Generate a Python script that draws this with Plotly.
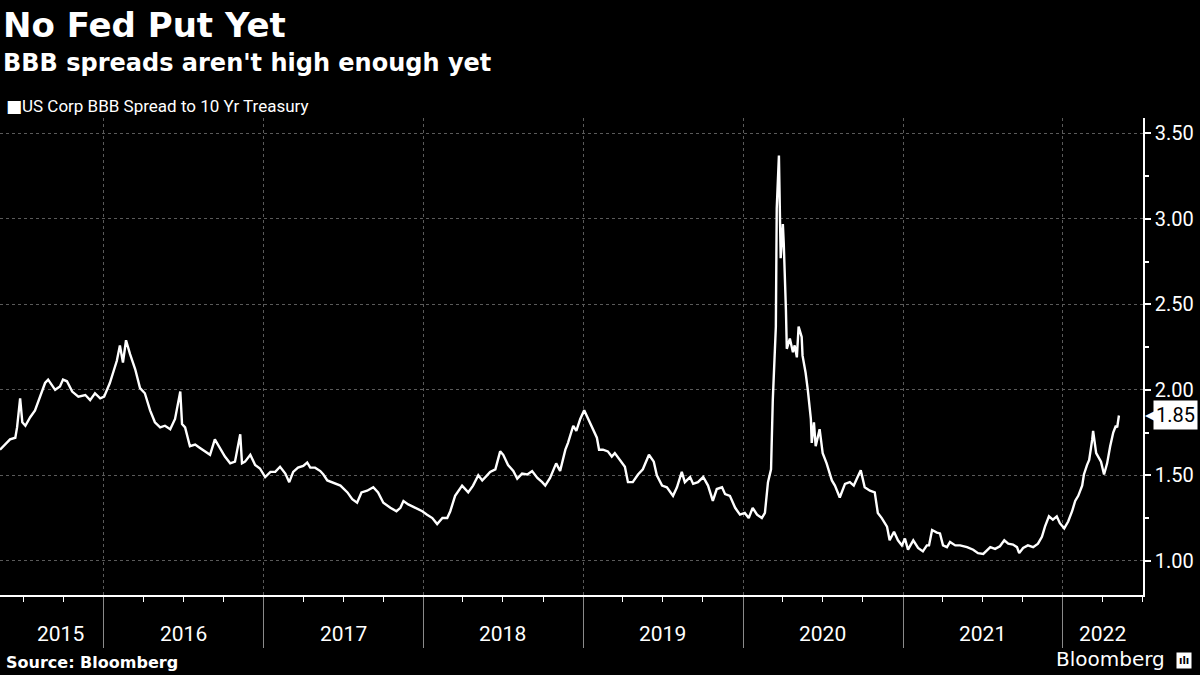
import plotly.graph_objects as go

# BBB spread to 10yr treasury (pct pts)
d2015 = ["2015-05-09", "2015-05-21", "2015-06-01", "2015-06-13", "2015-06-17", "2015-06-24", "2015-06-29",
         "2015-07-06", "2015-07-17", "2015-07-28", "2015-08-09", "2015-08-20", "2015-08-27", "2015-09-12",
         "2015-09-23", "2015-09-30", "2015-10-09", "2015-10-21", "2015-11-04", "2015-11-20", "2015-12-01",
         "2015-12-12", "2015-12-24"]
v2015 = [1.65, 1.68, 1.71, 1.72, 1.78, 1.95, 1.81, 1.79, 1.84, 1.88, 1.96, 2.04, 2.06, 2.00, 2.02, 2.06, 2.05,
         1.99, 1.96, 1.97, 1.94, 1.98, 1.95]

d2016 = ["2016-01-02", "2016-01-15", "2016-01-22", "2016-01-31", "2016-02-07", "2016-02-14", "2016-02-21",
         "2016-03-01", "2016-03-13", "2016-03-24", "2016-04-04", "2016-04-16", "2016-04-27", "2016-05-09",
         "2016-05-20", "2016-06-01", "2016-06-12", "2016-06-24", "2016-06-28", "2016-07-05", "2016-07-16",
         "2016-07-28", "2016-08-08", "2016-08-19", "2016-08-31", "2016-09-11", "2016-09-23", "2016-10-04",
         "2016-10-16", "2016-10-27", "2016-11-08", "2016-11-12", "2016-11-19", "2016-12-01", "2016-12-12",
         "2016-12-23"]
v2016 = [1.96, 2.04, 2.10, 2.17, 2.26, 2.16, 2.29, 2.21, 2.12, 2.01, 1.98, 1.88, 1.81, 1.78, 1.79, 1.77, 1.83,
         1.99, 1.80, 1.78, 1.67, 1.68, 1.66, 1.64, 1.62, 1.71, 1.66, 1.61, 1.57, 1.58, 1.74, 1.57, 1.58, 1.62,
         1.56, 1.54]

d2017 = ["2017-01-04", "2017-01-16", "2017-01-27", "2017-02-07", "2017-02-19", "2017-02-28", "2017-03-09",
         "2017-03-20", "2017-04-01", "2017-04-10", "2017-04-17", "2017-04-28", "2017-05-10", "2017-05-17",
         "2017-05-26", "2017-06-09", "2017-06-25", "2017-07-11", "2017-07-22", "2017-08-02", "2017-08-12",
         "2017-08-25", "2017-09-08", "2017-09-19", "2017-10-01", "2017-10-17", "2017-10-31", "2017-11-09",
         "2017-11-16", "2017-11-27", "2017-12-13", "2017-12-29"]
v2017 = [1.49, 1.52, 1.52, 1.55, 1.51, 1.46, 1.52, 1.545, 1.555, 1.575, 1.545, 1.545, 1.525, 1.505, 1.47,
         1.455, 1.44, 1.40, 1.36, 1.34, 1.40, 1.41, 1.43, 1.40, 1.34, 1.31, 1.29, 1.31, 1.35, 1.33, 1.31, 1.29]

d2018 = ["2018-01-09", "2018-01-21", "2018-02-01", "2018-02-13", "2018-02-24", "2018-03-03", "2018-03-14",
         "2018-03-30", "2018-04-13", "2018-04-24", "2018-05-06", "2018-05-15", "2018-05-26", "2018-06-02",
         "2018-06-14", "2018-06-25", "2018-07-02", "2018-07-13", "2018-07-25", "2018-08-03", "2018-08-14",
         "2018-08-26", "2018-09-06", "2018-09-18", "2018-09-29", "2018-10-06", "2018-10-17", "2018-10-31",
         "2018-11-09", "2018-11-21", "2018-11-27", "2018-12-09", "2018-12-16", "2018-12-25"]
v2018 = [1.27, 1.25, 1.215, 1.25, 1.25, 1.29, 1.38, 1.44, 1.40, 1.44, 1.50, 1.47, 1.50, 1.52, 1.535, 1.64,
         1.62, 1.56, 1.525, 1.48, 1.51, 1.505, 1.525, 1.485, 1.46, 1.44, 1.485, 1.57, 1.525, 1.65, 1.69, 1.79,
         1.76, 1.83]

d2019 = ["2019-01-03", "2019-01-12", "2019-01-23", "2019-02-01", "2019-02-06", "2019-02-15", "2019-02-26",
         "2019-03-07", "2019-03-14", "2019-03-26", "2019-04-06", "2019-04-13", "2019-04-24", "2019-05-06",
         "2019-05-17", "2019-05-31", "2019-06-11", "2019-06-18", "2019-06-30", "2019-07-11", "2019-07-25",
         "2019-08-03", "2019-08-14", "2019-08-21", "2019-09-02", "2019-09-09", "2019-09-20", "2019-10-02",
         "2019-10-13", "2019-10-24", "2019-11-02", "2019-11-14", "2019-11-21", "2019-12-02", "2019-12-14",
         "2019-12-25"]
v2019 = [1.88, 1.83, 1.76, 1.72, 1.65, 1.65, 1.64, 1.61, 1.63, 1.59, 1.55, 1.46, 1.46, 1.505, 1.535, 1.62,
         1.58, 1.50, 1.44, 1.43, 1.38, 1.43, 1.52, 1.46, 1.49, 1.45, 1.46, 1.49, 1.44, 1.35, 1.42, 1.43, 1.39,
         1.38, 1.31, 1.27]

d2020 = ["2020-01-05", "2020-01-14", "2020-01-23", "2020-02-02", "2020-02-13", "2020-02-20", "2020-02-27",
         "2020-03-05", "2020-03-09", "2020-03-16", "2020-03-18", "2020-03-23", "2020-03-25", "2020-03-27",
         "2020-04-01", "2020-04-03", "2020-04-08", "2020-04-10", "2020-04-17", "2020-04-24", "2020-04-28",
         "2020-05-03", "2020-05-07", "2020-05-14", "2020-05-16", "2020-05-23", "2020-05-28", "2020-06-04",
         "2020-06-06", "2020-06-11", "2020-06-15", "2020-06-24", "2020-07-01", "2020-07-10", "2020-07-22",
         "2020-07-29", "2020-08-09", "2020-08-21", "2020-09-01", "2020-09-10", "2020-09-17", "2020-09-26",
         "2020-10-05", "2020-10-17", "2020-10-28", "2020-11-04", "2020-11-13", "2020-11-25", "2020-12-01",
         "2020-12-11", "2020-12-20", "2020-12-29"]
v2020 = [1.28, 1.25, 1.31, 1.27, 1.25, 1.28, 1.46, 1.535, 1.94, 2.37, 3.06, 3.37, 2.96, 2.77, 2.97, 2.86,
         2.47, 2.24, 2.30, 2.22, 2.26, 2.19, 2.37, 2.31, 2.20, 2.10, 2.00, 1.83, 1.69, 1.81, 1.67, 1.77, 1.63,
         1.57, 1.47, 1.44, 1.37, 1.45, 1.46, 1.44, 1.48, 1.53, 1.43, 1.41, 1.40, 1.28, 1.25, 1.20, 1.12, 1.17,
         1.12, 1.09]

d2021 = ["2021-01-05", "2021-01-12", "2021-01-24", "2021-02-04", "2021-02-15", "2021-02-24", "2021-03-01",
         "2021-03-08", "2021-03-19", "2021-03-26", "2021-04-02", "2021-04-11", "2021-04-18", "2021-04-30",
         "2021-05-11", "2021-05-27", "2021-06-10", "2021-06-21", "2021-07-03", "2021-07-12", "2021-07-19",
         "2021-07-30", "2021-08-10", "2021-08-20", "2021-08-29", "2021-09-09", "2021-09-18", "2021-09-23",
         "2021-10-02", "2021-10-13", "2021-10-25", "2021-11-05", "2021-11-14", "2021-11-21", "2021-11-30",
         "2021-12-09", "2021-12-18", "2021-12-25"]
v2021 = [1.13, 1.065, 1.12, 1.075, 1.055, 1.09, 1.09, 1.18, 1.165, 1.16, 1.09, 1.08, 1.11, 1.09, 1.09, 1.08,
         1.065, 1.045, 1.04, 1.065, 1.08, 1.07, 1.085, 1.12, 1.10, 1.095, 1.08, 1.045, 1.075, 1.09, 1.08, 1.10,
         1.14, 1.20, 1.26, 1.24, 1.26, 1.22]

d2022 = ["2022-01-04", "2022-01-13", "2022-01-22", "2022-01-29", "2022-02-05", "2022-02-14", "2022-02-18",
         "2022-02-25", "2022-03-02", "2022-03-09", "2022-03-11", "2022-03-18", "2022-03-22", "2022-03-29",
         "2022-04-05", "2022-04-12", "2022-04-19", "2022-04-26", "2022-05-02", "2022-05-05", "2022-05-09"]
v2022 = [1.19, 1.23, 1.29, 1.35, 1.38, 1.44, 1.505, 1.56, 1.59, 1.71, 1.76, 1.63, 1.61, 1.58, 1.505, 1.57,
         1.67, 1.75, 1.79, 1.78, 1.85]

year_starts = ["2016-01-01", "2017-01-01", "2018-01-01", "2019-01-01", "2020-01-01", "2021-01-01", "2022-01-01"]
year_labels = ["2015", "2016", "2017", "2018", "2019", "2020", "2021", "2022"]
year_label_pos = ["2015-09-25", "2016-07-01", "2017-07-01", "2018-07-01", "2019-07-01", "2020-07-01",
                  "2021-07-01", "2022-04-02"]
y_ticks = [1.0, 1.5, 2.0, 2.5, 3.0, 3.5]

dates = d2015 + d2016 + d2017 + d2018 + d2019 + d2020 + d2021 + d2022
vals = v2015 + v2016 + v2017 + v2018 + v2019 + v2020 + v2021 + v2022

# plot area in pixels: top 118, bottom 595 -> helper for paper y
TOP, BOT = 118, 595
def py(px):
    return (BOT - px) / (BOT - TOP)

GRID = "#5a5a5a"

fig = go.Figure()
fig.add_trace(go.Scatter(x=dates, y=vals, mode="lines",
                         line=dict(color="white", width=2.4), showlegend=False,
                         hoverinfo="x+y"))

fig.update_layout(
    width=1200, height=675,
    paper_bgcolor="black", plot_bgcolor="black",
    margin=dict(l=0, r=57, t=TOP, b=675 - BOT),
    font=dict(family="Roboto", color="white"),
    xaxis=dict(
        type="date", range=["2015-05-09", "2022-07-03"],
        tickmode="array", tickvals=year_starts, showticklabels=False,
        ticks="outside", ticklen=51, tickcolor="#8a8a8a", tickwidth=1,
        showgrid=True, gridcolor=GRID, griddash="dot", gridwidth=1,
        showline=True, linecolor="white", linewidth=1.5,
        zeroline=False,
        minor=dict(tick0="2015-01-01", dtick="M3", ticks="outside", ticklen=5,
                   tickcolor="white", showgrid=False),
    ),
    yaxis=dict(
        side="right", range=[0.80, 3.59],
        tickmode="array", tickvals=y_ticks, tickformat=".2f",
        ticks="outside", ticklen=6, tickcolor="white", tickwidth=1.5,
        tickfont=dict(family="Roboto", size=20, color="white"),
        showgrid=True, gridcolor=GRID, griddash="dot", gridwidth=1,
        showline=True, linecolor="white", linewidth=1.5,
        zeroline=False,
        minor=dict(tick0=1.0, dtick=0.25, ticks="outside", ticklen=4,
                   tickcolor="white", showgrid=False),
    ),
)

annots = []
# titles
annots.append(dict(text="No Fed Put Yet", x=0, xref="paper", xanchor="left", xshift=1,
                   y=py(25), yref="paper", yanchor="middle", showarrow=False,
                   font=dict(family="DejaVu Sans", size=34, weight="bold", color="white")))
annots.append(dict(text="BBB spreads aren't high enough yet", x=0, xref="paper", xanchor="left", xshift=1,
                   y=py(63), yref="paper", yanchor="middle", showarrow=False,
                   font=dict(family="DejaVu Sans", size=24, weight="bold", color="white")))
# legend: square + label
annots.append(dict(text="■", x=0, xref="paper", xanchor="left", xshift=4,
                   y=py(106), yref="paper", yanchor="middle", showarrow=False,
                   font=dict(family="DejaVu Sans", size=17, color="white")))
annots.append(dict(text="US Corp BBB Spread to 10 Yr Treasury", x=0, xref="paper", xanchor="left", xshift=20,
                   y=py(106), yref="paper", yanchor="middle", showarrow=False,
                   font=dict(family="Roboto", size=17, color="white")))
# year labels
for lab, pos in zip(year_labels, year_label_pos):
    annots.append(dict(text=lab, x=pos, xref="x", xanchor="center",
                       y=py(634), yref="paper", yanchor="middle", showarrow=False,
                       font=dict(family="Roboto", size=21, color="white")))
# last value marker
annots.append(dict(text="◀", x=1, xref="paper", xanchor="left", xshift=0,
                   y=vals[-1], yref="y", yanchor="middle", showarrow=False,
                   font=dict(family="DejaVu Sans", size=15, color="white")))
annots.append(dict(text="%.2f" % vals[-1], x=1, xref="paper", xanchor="left", xshift=10,
                   y=vals[-1], yref="y", yanchor="middle", showarrow=False,
                   bgcolor="white", borderpad=2,
                   font=dict(family="Roboto", size=20, color="black")))
# footer
annots.append(dict(text="Source: Bloomberg", x=0, xref="paper", xanchor="left", xshift=4,
                   y=py(662), yref="paper", yanchor="middle", showarrow=False,
                   font=dict(family="DejaVu Sans", size=16, weight="bold", color="white")))
annots.append(dict(text="Bloomberg", x=1167 / 1143, xref="paper", xanchor="right",
                   y=py(659), yref="paper", yanchor="middle", showarrow=False,
                   font=dict(family="DejaVu Sans", size=20, color="white")))
annots.append(dict(text="<b>ılı</b>", x=1176 / 1143, xref="paper", xanchor="left",
                   y=py(660), yref="paper", yanchor="middle", showarrow=False,
                   bgcolor="white", borderpad=2,
                   font=dict(family="DejaVu Sans", size=10, color="black")))

fig.update_layout(annotations=annots)

# page body has a default 8px margin -> drop it so the figure sits at 0,0
fig.write_html("out.html", config={"displayModeBar": False},
               post_script="document.body.style.margin='0';")
